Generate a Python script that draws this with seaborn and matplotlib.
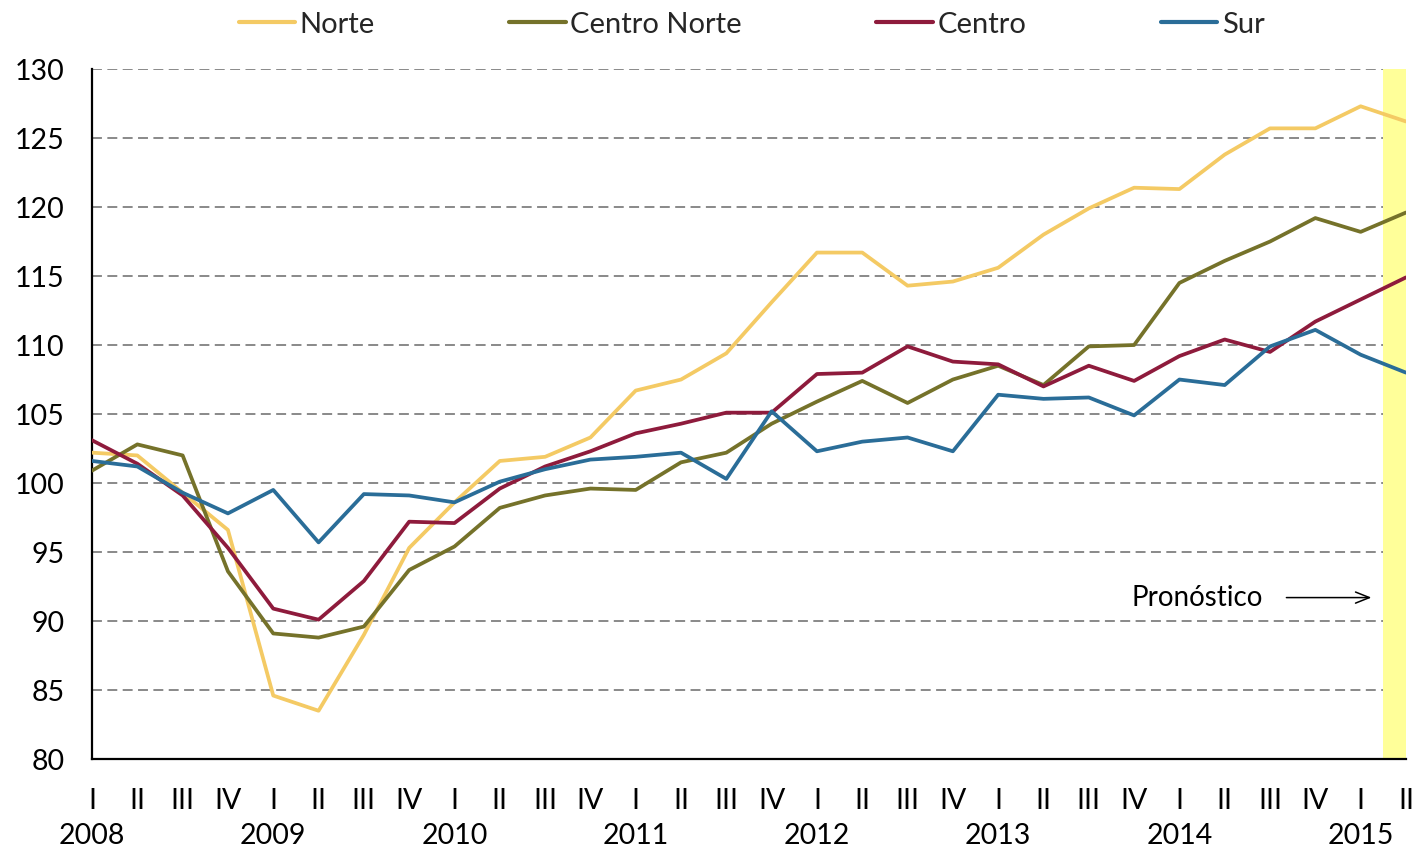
import numpy as np
import pandas as pd
import matplotlib
matplotlib.use("Agg")
import matplotlib.pyplot as plt
import seaborn as sns

quarters = ["I", "II", "III", "IV"]
years = [2008, 2009, 2010, 2011, 2012, 2013, 2014, 2015]
n_points = 30

norte = [102.2, 102.0, 99.3, 96.6, 84.6, 83.5, 89.0, 95.3, 98.6, 101.6,
         101.9, 103.3, 106.7, 107.5, 109.4, 113.1, 116.7, 116.7, 114.3, 114.6,
         115.6, 118.0, 119.9, 121.4, 121.3, 123.8, 125.7, 125.7, 127.3, 126.2]
centro_norte = [100.9, 102.8, 102.0, 93.6, 89.1, 88.8, 89.6, 93.7, 95.4, 98.2,
                99.1, 99.6, 99.5, 101.5, 102.2, 104.3, 105.9, 107.4, 105.8, 107.5,
                108.5, 107.1, 109.9, 110.0, 114.5, 116.1, 117.5, 119.2, 118.2, 119.6]
centro = [103.1, 101.4, 99.1, 95.3, 90.9, 90.1, 92.9, 97.2, 97.1, 99.6,
          101.2, 102.3, 103.6, 104.3, 105.1, 105.1, 107.9, 108.0, 109.9, 108.8,
          108.6, 107.0, 108.5, 107.4, 109.2, 110.4, 109.5, 111.7, 113.3, 114.9]
sur = [101.6, 101.2, 99.3, 97.8, 99.5, 95.7, 99.2, 99.1, 98.6, 100.1,
       101.0, 101.7, 101.9, 102.2, 100.3, 105.2, 102.3, 103.0, 103.3, 102.3,
       106.4, 106.1, 106.2, 104.9, 107.5, 107.1, 109.9, 111.1, 109.3, 108.0]

series_names = ["Norte", "Centro Norte", "Centro", "Sur"]
series_values = [norte, centro_norte, centro, sur]
colors = ["#F4CA64", "#75722A", "#8E1B3C", "#2A6D98"]

forecast_start = 28.5
forecast_label = "Pronóstico"

# tick labels
tick_labels = []
for i in range(n_points):
    q = quarters[i % 4]
    if i % 4 == 0:
        tick_labels.append(f"{q}\n{years[i // 4]}")
    else:
        tick_labels.append(q)

rows = []
for name, vals in zip(series_names, series_values):
    for i, v in enumerate(vals):
        rows.append({"t": i, "valor": v, "serie": name})
df = pd.DataFrame(rows)

sns.set_style("white")
plt.rcParams["font.family"] = ["Lato", "DejaVu Sans"]

fig = plt.figure(figsize=(14.18, 8.5), dpi=100)
ax = fig.add_axes([0.0649, 0.107, 0.9266, 0.8118])

ax.axvspan(forecast_start, n_points - 1, color="#FFFF99", lw=0, zorder=1)

sns.lineplot(data=df, x="t", y="valor", hue="serie", hue_order=series_names,
             palette=colors, linewidth=2.7, ax=ax, legend=False, zorder=3)

ax.set_xlim(0, n_points - 1)
ax.set_ylim(80, 130)
ax.set_yticks(np.arange(80, 131, 5))
ax.set_xticks(range(n_points))
ax.set_xticklabels(tick_labels, linespacing=1.4)
ax.set_xlabel("")
ax.set_ylabel("")

ax.set_axisbelow(True)
ax.yaxis.grid(True, color="#808080", linewidth=1.3, linestyle=(0, (5.5, 3)))
ax.xaxis.grid(False)
for g in ax.get_ygridlines()[:1]:
    g.set_visible(False)

for s in ["top", "right"]:
    ax.spines[s].set_visible(False)
for s in ["left", "bottom"]:
    ax.spines[s].set_color("black")
    ax.spines[s].set_linewidth(1.6)

ax.tick_params(axis="both", which="major", direction="out", length=7,
               width=1.3, color="black", labelsize=20.5, labelcolor="black")
ax.tick_params(axis="y", pad=13)
ax.tick_params(axis="x", pad=14)

ax.text(24.4, 91.7, forecast_label, ha="center", va="center", fontsize=20, color="black")
ax.annotate("", xy=(28.3, 91.7), xytext=(26.3, 91.7),
            arrowprops=dict(arrowstyle="->,head_length=1.0,head_width=0.4",
                            color="black", lw=1.1))

handles = [plt.Line2D([], [], color=c, lw=3) for c in colors]
fig.legend(handles, series_names, loc="center", bbox_to_anchor=(0.530, 0.971),
           ncol=4, frameon=False, fontsize=21, handlelength=1.95,
           handletextpad=0.15, columnspacing=4.6)

fig.savefig("out.png", dpi=100)
